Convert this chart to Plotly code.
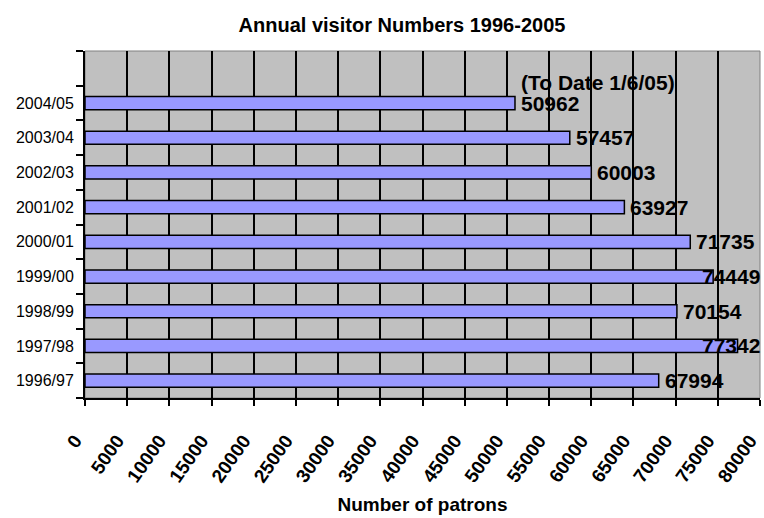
import plotly.graph_objects as go

categories = ["1996/97", "1997/98", "1998/99", "1999/00", "2000/01",
              "2001/02", "2002/03", "2003/04", "2004/05"]
visitors = [67994, 77342, 70154, 74449, 71735, 63927, 60003, 57457, 50962]
x_ticks = list(range(0, 80001, 5000))
note_text = "(To Date 1/6/05)"
title_text = "Annual visitor Numbers 1996-2005"
x_title = "Number of patrons"

FONT = "Liberation Sans, Arial, sans-serif"
ypos = list(range(len(categories)))

fig = go.Figure()
fig.add_trace(go.Bar(
    x=visitors, y=ypos, orientation="h", width=0.38,
    marker=dict(color="#9999FF", line=dict(color="black", width=1.5)),
    hoverinfo="x+y",
))

lab_font = dict(family=FONT, size=21, color="black", weight="bold")
ann = []
edge_limit = 73000
for v, y in zip(visitors, ypos):
    if v > edge_limit:
        ann.append(dict(x=1, xref="paper", y=y, yref="y", text=str(v),
                        xanchor="right", yanchor="middle", showarrow=False,
                        xshift=2, font=lab_font))
    else:
        ann.append(dict(x=v, xref="x", y=y, yref="y", text=str(v),
                        xanchor="left", yanchor="middle", showarrow=False,
                        xshift=4, font=lab_font))
ann.append(dict(x=visitors[-1], xref="x", y=ypos[-1], yref="y", text=note_text,
                xanchor="left", yanchor="middle", showarrow=False,
                xshift=4, yshift=21, font=lab_font))

fig.update_layout(
    width=764, height=518,
    margin=dict(l=85, r=4, t=51, b=120, autoexpand=False),
    paper_bgcolor="white", plot_bgcolor="#C0C0C0",
    showlegend=False,
    title=dict(text=title_text, x=402/764, xanchor="center", xref="container",
               y=1 - 25/518, yanchor="middle", yref="container",
               font=dict(family=FONT, size=20, color="black", weight="bold")),
    annotations=ann,
    xaxis=dict(
        range=[0, 80000], tickmode="array", tickvals=x_ticks,
        ticktext=[str(t) for t in x_ticks], tickangle=-55,
        ticks="outside", ticklen=6, tickwidth=2, tickcolor="black",
        ticklabelstandoff=16, ticklabelshift=-10,
        ticklabeloverflow="allow", automargin=False,
        showgrid=True, gridcolor="black", gridwidth=2,
        showline=True, linecolor="black", linewidth=2,
        zeroline=False,
        tickfont=dict(family=FONT, size=19, color="black", weight="bold"),
        title=dict(text=x_title, standoff=12,
                   font=dict(family=FONT, size=19, color="black", weight="bold")),
    ),
    yaxis=dict(
        range=[-0.5, 9.5], tickmode="array", tickvals=ypos, ticktext=categories,
        ticks="", showgrid=False, zeroline=False, automargin=False,
        showline=True, linecolor="black", linewidth=2,
        tickfont=dict(family=FONT, size=16, color="black"),
        ticklabelstandoff=6,
        minor=dict(tickmode="array", tickvals=[i - 0.5 for i in range(11)],
                   ticks="outside", ticklen=7, tickwidth=2, tickcolor="black",
                   showgrid=False),
    ),
)
fig.add_shape(type="rect", xref="paper", yref="paper", x0=0, x1=1, y0=0, y1=1,
              line=dict(color="#808080", width=1), layer="below")
fig.write_html("out.html")
